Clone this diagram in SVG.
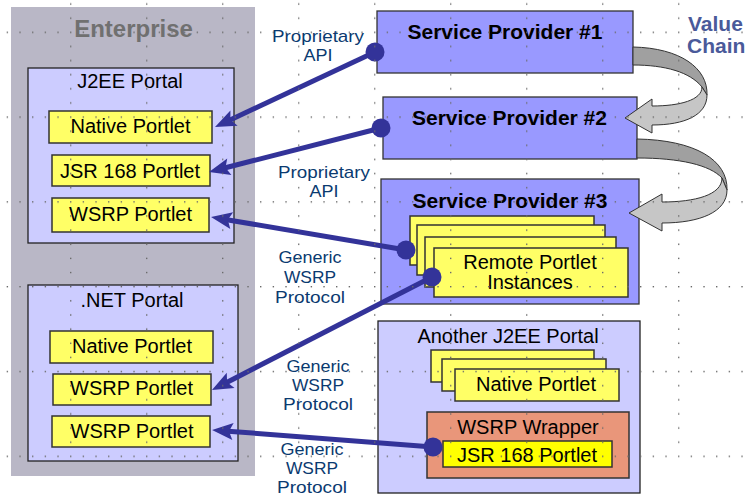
<svg xmlns="http://www.w3.org/2000/svg" width="748" height="497" viewBox="0 0 748 497">
<style>
text{font-family:"Liberation Sans",Arial,sans-serif}
.t20{font-size:20px;fill:#000;text-anchor:middle}
.sp{font-size:21px;font-weight:bold;fill:#000;text-anchor:middle}
.lbl{font-size:17px;fill:#0a3a70;text-anchor:middle}
.portal{fill:#ccccff;stroke:#222;stroke-width:1.3}
.prov{fill:#9999ff;stroke:#333;stroke-width:1.3}
.plet{fill:#ffff66;stroke:#333;stroke-width:1.5}
.conn{stroke:#333399;stroke-width:5;fill:none;marker-end:url(#head)}
.dot{fill:#333399}
.dk{fill:#a0a0a0;stroke:#333;stroke-width:1}
.lt{fill:#c6c6c6;stroke:#333;stroke-width:1}
</style>
<defs>
<marker id="head" markerUnits="userSpaceOnUse" orient="auto" refX="0" refY="0" markerWidth="40" markerHeight="40" viewBox="-10 -20 40 40" overflow="visible">
<path d="M16,0 L-5,-8.5 L-1,0 L-5,8.5 Z" fill="#333399"/>
</marker>
<pattern id="grid" patternUnits="userSpaceOnUse" x="70" y="31.6" width="76" height="84.8">
<g fill="#6a6a6a">
<rect x="0" y="0" width="1.4" height="1.4"/><rect x="12.67" y="0" width="1.4" height="1.4"/><rect x="25.33" y="0" width="1.4" height="1.4"/><rect x="38" y="0" width="1.4" height="1.4"/><rect x="50.67" y="0" width="1.4" height="1.4"/><rect x="63.33" y="0" width="1.4" height="1.4"/>
<rect x="0" y="14.13" width="1.4" height="1.4"/><rect x="0" y="28.27" width="1.4" height="1.4"/><rect x="0" y="42.4" width="1.4" height="1.4"/><rect x="0" y="56.53" width="1.4" height="1.4"/><rect x="0" y="70.67" width="1.4" height="1.4"/>
</g>
</pattern>
</defs>
<rect width="748" height="497" fill="#fff"/>

<g id="enterprise">
<rect x="11" y="7" width="244" height="469" fill="#b9b7c6"/>
<text x="133.5" y="37" style="font-size:24px;font-weight:bold;fill:#707070;text-anchor:middle">Enterprise</text>
</g>

<g id="j2ee-portal">
<rect class="portal" x="28" y="68" width="206" height="175"/>
<text class="t20" x="130" y="88">J2EE Portal</text>
</g>
<g id="j2ee-native">
<rect class="plet" x="49" y="111" width="163" height="32"/>
<text class="t20" x="130.5" y="132.5">Native Portlet</text>
</g>
<g id="j2ee-jsr168">
<rect class="plet" x="52" y="155" width="158" height="31"/>
<text class="t20" x="130" y="177.5">JSR 168 Portlet</text>
</g>
<g id="j2ee-wsrp">
<rect class="plet" x="52" y="198" width="157" height="34"/>
<text class="t20" x="130.5" y="220.5">WSRP Portlet</text>
</g>

<g id="net-portal">
<rect class="portal" x="28" y="285" width="210" height="176"/>
<text class="t20" x="132" y="307">.NET Portal</text>
</g>
<g id="net-native">
<rect class="plet" x="50" y="331" width="163" height="32"/>
<text class="t20" x="132" y="352.5">Native Portlet</text>
</g>
<g id="net-wsrp1">
<rect class="plet" x="53" y="374" width="158" height="31"/>
<text class="t20" x="131.5" y="394.5">WSRP Portlet</text>
</g>
<g id="net-wsrp2">
<rect class="plet" x="52" y="416" width="158" height="31"/>
<text class="t20" x="132" y="437.5">WSRP Portlet</text>
</g>

<g id="sp1">
<rect class="prov" x="377" y="11" width="256" height="62"/>
<text class="sp" x="505" y="39">Service Provider #1</text>
</g>
<g id="sp2">
<rect class="prov" x="383" y="97" width="254" height="62"/>
<text class="sp" x="509.5" y="125">Service Provider #2</text>
</g>
<g id="sp3">
<rect class="prov" x="381" y="179" width="258" height="125"/>
<text class="sp" x="510" y="208">Service Provider #3</text>
</g>
<g id="remote-portlets">
<rect class="plet" x="410" y="216" width="184" height="49"/>
<rect class="plet" x="417" y="225" width="188" height="50"/>
<rect class="plet" x="425" y="237" width="191" height="50"/>
<rect class="plet" x="434" y="248" width="194" height="49"/>
<text class="t20" x="530" y="269">Remote Portlet</text>
<text class="t20" x="530" y="289">Instances</text>
</g>

<g id="another-j2ee">
<rect class="portal" x="378" y="321" width="262" height="172"/>
<text class="t20" x="508" y="343">Another J2EE Portal</text>
</g>
<g id="another-native">
<rect class="plet" x="431" y="350" width="163" height="32"/>
<rect class="plet" x="442" y="359" width="164" height="32"/>
<rect class="plet" x="455" y="369" width="164" height="32"/>
<text class="t20" x="536" y="391">Native Portlet</text>
</g>
<g id="wsrp-wrapper">
<rect x="427" y="412" width="202" height="66" fill="#e9967a" stroke="#333" stroke-width="1.5"/>
<text class="t20" x="528" y="434">WSRP Wrapper</text>
</g>
<g id="wrapper-jsr168">
<rect x="443" y="441" width="169" height="26" fill="#ffff00" stroke="#333" stroke-width="1.5"/>
<text class="t20" x="527" y="462">JSR 168 Portlet</text>
</g>

<g id="value-chain">
<path class="dk" d="M633,47 C680,48 708,68 707,95 L702,87 C690,72 665,65 633,65 Z"/>
<path class="lt" d="M707,95 C707,115 685,125 652,125 L652,133 L625,118 L652,99 L652,106 C680,106 702,100 702,87 Z"/>
<path class="dk" d="M637,139 C695,140 728,160 727,190 L722,178 C710,165 680,158 637,158 Z"/>
<path class="lt" d="M727,190 C727,212 700,223 662,223 L662,231 L629,213 L662,194 L662,202 C695,202 722,195 722,178 Z"/>
<text x="688" y="31" style="font-size:21px;font-weight:bold;fill:#4a5a9a">Value</text>
<text x="687" y="53" style="font-size:21px;font-weight:bold;fill:#4a5a9a">Chain</text>
</g>

<g id="connectors">
<line class="conn" x1="375" y1="52" x2="229.5" y2="120.2"/>
<circle class="dot" cx="375" cy="52" r="9.5"/>
<line class="conn" x1="381" y1="128" x2="224.5" y2="168"/>
<circle class="dot" cx="381" cy="128" r="9.5"/>
<line class="conn" x1="406" y1="250" x2="226.8" y2="219.7"/>
<circle class="dot" cx="406" cy="250" r="9.5"/>
<line class="conn" x1="432" y1="277" x2="226.2" y2="382.7"/>
<circle class="dot" cx="432" cy="277" r="9.5"/>
<line class="conn" x1="433" y1="447" x2="228" y2="431.2"/>
<circle class="dot" cx="433" cy="447" r="9.5"/>
</g>

<g id="labels">
<text class="lbl" x="318" y="42" textLength="92" lengthAdjust="spacingAndGlyphs">Proprietary</text>
<text class="lbl" x="318" y="61" textLength="29" lengthAdjust="spacingAndGlyphs">API</text>
<text class="lbl" x="324" y="178" textLength="92" lengthAdjust="spacingAndGlyphs">Proprietary</text>
<text class="lbl" x="324" y="197" textLength="29" lengthAdjust="spacingAndGlyphs">API</text>
<text class="lbl" x="310" y="263" textLength="63" lengthAdjust="spacingAndGlyphs">Generic</text>
<text class="lbl" x="310" y="283" textLength="52" lengthAdjust="spacingAndGlyphs">WSRP</text>
<text class="lbl" x="310" y="303" textLength="70" lengthAdjust="spacingAndGlyphs">Protocol</text>
<text class="lbl" x="318" y="372" textLength="63" lengthAdjust="spacingAndGlyphs">Generic</text>
<text class="lbl" x="318" y="391" textLength="52" lengthAdjust="spacingAndGlyphs">WSRP</text>
<text class="lbl" x="318" y="410" textLength="70" lengthAdjust="spacingAndGlyphs">Protocol</text>
<text class="lbl" x="312" y="455" textLength="63" lengthAdjust="spacingAndGlyphs">Generic</text>
<text class="lbl" x="312" y="474" textLength="52" lengthAdjust="spacingAndGlyphs">WSRP</text>
<text class="lbl" x="312" y="493" textLength="70" lengthAdjust="spacingAndGlyphs">Protocol</text>
</g>

<rect x="0" y="0" width="748" height="458" fill="url(#grid)" pointer-events="none"/>
</svg>
